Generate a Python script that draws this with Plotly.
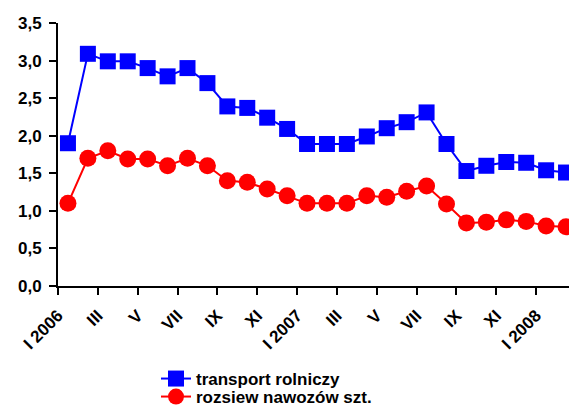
import plotly.graph_objects as go

months = ["I 2006", "II 2006", "III 2006", "IV 2006", "V 2006", "VI 2006", "VII 2006", "VIII 2006",
          "IX 2006", "X 2006", "XI 2006", "XII 2006", "I 2007", "II 2007", "III 2007", "IV 2007",
          "V 2007", "VI 2007", "VII 2007", "VIII 2007", "IX 2007", "X 2007", "XI 2007", "XII 2007",
          "I 2008", "II 2008"]
tick_labels = ["I 2006", "III", "V", "VII", "IX", "XI", "I 2007", "III", "V", "VII", "IX", "XI", "I 2008", ""]
transport = [1.90, 3.09, 2.99, 2.99, 2.90, 2.79, 2.90, 2.70, 2.39, 2.37, 2.24, 2.09,
             1.89, 1.89, 1.89, 1.99, 2.10, 2.18, 2.31, 1.89, 1.53, 1.60, 1.65, 1.64, 1.54, 1.51]
rozsiew = [1.10, 1.70, 1.80, 1.69, 1.69, 1.60, 1.70, 1.60, 1.40, 1.38, 1.29, 1.20,
           1.10, 1.10, 1.10, 1.20, 1.18, 1.26, 1.33, 1.09, 0.84, 0.85, 0.88, 0.86, 0.80, 0.79]
y_ticks = [0, 0.5, 1.0, 1.5, 2.0, 2.5, 3.0, 3.5]
y_tick_labels = ["0,0", "0,5", "1,0", "1,5", "2,0", "2,5", "3,0", "3,5"]

x = list(range(len(months)))
font_family = "Liberation Sans, Arial, sans-serif"

fig = go.Figure()
fig.add_trace(go.Scatter(
    x=x, y=transport, name="<b>transport rolniczy</b>", mode="lines+markers",
    line=dict(color="#0000FF", width=2),
    marker=dict(symbol="square", size=16, color="#0000FF"),
    legend="legend",
))
fig.add_trace(go.Scatter(
    x=x, y=rozsiew, name="<b>rozsiew nawozów szt.</b>", mode="lines+markers",
    line=dict(color="#FF0000", width=2),
    marker=dict(symbol="circle", size=17, color="#FF0000"),
    legend="legend2",
))

# page body has an 8px margin, so the figure starts at (8, 8) of the window
OFF = 8
W, H = 577 - OFF, 407 - OFF
L, R, T, B = 58 - OFF, 1, 23 - OFF, 121
pw, ph = W - L - R, H - T - B


def px_x(p):
    return (p - OFF - L) / pw


def px_y(p):
    return (H - B - (p - OFF)) / ph


leg_common = dict(xanchor="left", yanchor="middle", font=dict(size=17, color="black"),
                  bgcolor="rgba(0,0,0,0)", borderwidth=0, itemwidth=30)

fig.update_layout(
    width=W, height=H,
    margin=dict(l=L, r=R, t=T, b=B, autoexpand=False),
    plot_bgcolor="white", paper_bgcolor="white",
    font=dict(family=font_family, size=17, color="black"),
    showlegend=True,
    legend=dict(x=px_x(156), y=px_y(379), **leg_common),
    legend2=dict(x=px_x(156), y=px_y(397), **leg_common),
    xaxis=dict(
        range=[-0.5, len(months) - 0.5],
        tickmode="array",
        tickvals=[i - 0.5 for i in range(0, len(months) + 1, 2)],
        ticktext=["<b>%s</b>" % t if t else "" for t in tick_labels],
        tickangle=-45,
        ticks="outside", ticklen=7, tickwidth=2, tickcolor="black",
        ticklabelstandoff=4,
        showline=True, linecolor="black", linewidth=2,
        showgrid=False, zeroline=False,
        tickfont=dict(size=17),
        automargin=False,
    ),
    yaxis=dict(
        range=[0, 3.5],
        tickmode="array",
        tickvals=y_ticks,
        ticktext=["<b>%s</b>" % v for v in y_tick_labels],
        ticks="outside", ticklen=7, tickwidth=2, tickcolor="black",
        ticklabelstandoff=4,
        showline=True, linecolor="black", linewidth=2,
        showgrid=False, zeroline=False,
        tickfont=dict(size=17),
        automargin=False,
    ),
)

fig.write_html("out.html")
